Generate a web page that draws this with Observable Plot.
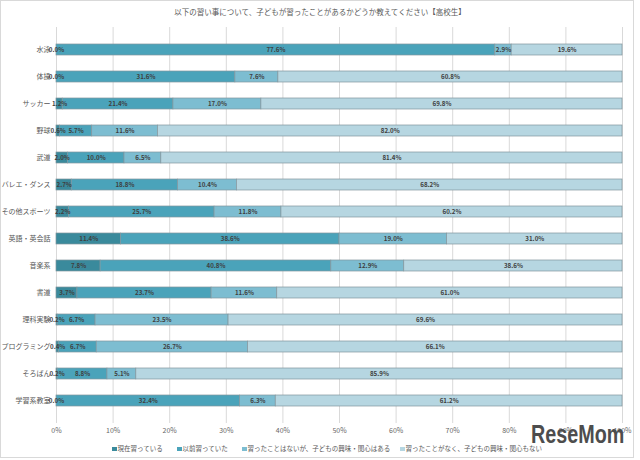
<!DOCTYPE html>
<html><head><meta charset="utf-8">
<script src="https://cdn.jsdelivr.net/npm/d3@7"></script>
<script src="https://cdn.jsdelivr.net/npm/@observablehq/plot@0.6"></script>
<style>
body{margin:0;background:#fff;font-family:"Noto Sans CJK JP",sans-serif;}
#wrap{position:relative;width:640px;height:460px;overflow:hidden;background:#fff}
#frame{position:absolute;left:0;top:0;width:634px;height:458px;border:1px solid #d9d9d9;box-sizing:border-box;pointer-events:none}
#title{position:absolute;top:7px;left:0;width:640px;text-align:center;font-size:7.5px;color:#595959;line-height:10px}
#chart{position:absolute;left:0;top:0}
#legend{position:absolute;top:444px;left:112px;font-size:6.5px;color:#595959;white-space:nowrap;line-height:9px}
#legend span.item{position:absolute;top:0}
#legend i{display:inline-block;width:4.5px;height:4.5px;margin-right:1px;vertical-align:0px}
#logo{position:absolute;left:531px;top:422px;font-family:"Liberation Sans",sans-serif;font-weight:bold;font-size:25px;color:#4d4d4d;transform:scaleX(0.79);transform-origin:left top;line-height:25px}
</style>
</head><body>
<div id="wrap">
  <div id="title">以下の習い事について、子どもが習ったことがあるかどうか教えてください【高校生】</div>
  <div id="chart"></div>
  <div id="legend"></div>
  <div id="logo">ReseMom</div>
  <div id="frame"></div>
</div>
<script>
const categories = ["水泳","体操","サッカー","野球","武道","バレエ・ダンス","その他スポーツ","英語・英会話","音楽系","書道","理科実験","プログラミング","そろばん","学習系教室"];
const series = ["現在習っている","以前習っていた","習ったことはないが、子どもの興味・関心はある","習ったことがなく、子どもの興味・関心もない"];
const current       = [0.0, 0.0, 1.2, 0.6, 2.0, 2.7, 2.2, 11.4, 7.8, 3.7, 0.2, 0.4, 0.2, 0.0];
const before        = [77.6, 31.6, 21.4, 5.7, 10.0, 18.8, 25.7, 38.6, 40.8, 23.7, 6.7, 6.7, 8.8, 32.4];
const interested    = [2.9, 7.6, 17.0, 11.6, 6.5, 10.4, 11.8, 19.0, 12.9, 11.6, 23.5, 26.7, 5.1, 6.3];
const notInterested = [19.6, 60.8, 69.8, 82.0, 81.4, 68.2, 60.2, 31.0, 38.6, 61.0, 69.6, 66.1, 85.9, 61.2];
const colors = ["#3a8a9c", "#4aa3ba", "#7dbdd1", "#b6d6e1"];
const xTicks = [0, 10, 20, 30, 40, 50, 60, 70, 80, 90, 100];

const seriesValues = [current, before, interested, notInterested];
const data = [];
categories.forEach((c, i) => {
  series.forEach((s, j) => {
    data.push({cat: c, series: s, value: seriesValues[j][i]});
  });
});

const chart = Plot.plot({
  width: 640,
  height: 440,
  marginTop: 27,
  marginBottom: 17,
  marginLeft: 56,
  marginRight: 18,
  style: {fontFamily: '"Noto Sans CJK JP", sans-serif', background: "transparent"},
  x: {domain: [0, 1], ticks: xTicks.map(d => d / 100), tickFormat: d => Math.round(d * 100) + "%", label: null, tickSize: 0, tickPadding: 5},
  y: {domain: categories, padding: 0.6, label: null, tickSize: 0, tickPadding: 6},
  color: {domain: series, range: colors},
  marks: [
    Plot.gridX(xTicks.map(d => d / 100), {stroke: "#d9d9d9", strokeOpacity: 1}),
    Plot.barX(data, Plot.stackX({x: "value", y: "cat", z: "series", fill: "series", offset: "normalize", stroke: "#80959d", strokeWidth: 0.7})),
    Plot.axisX({ticks: xTicks.map(d => d / 100), tickFormat: d => Math.round(d * 100) + "%", tickSize: 0, tickPadding: 5, fontSize: 7, fill: "#666", label: null}),
    Plot.axisY({tickSize: 0, tickPadding: 6, fontSize: 7, fill: "#555", label: null}),
    Plot.text(data, Plot.stackX({x: "value", y: "cat", z: "series", offset: "normalize", text: d => d.value.toFixed(1) + "%", fill: "#3f3f3f", fontSize: 6.2, fontWeight: "bold"}))
  ]
});
document.getElementById("chart").appendChild(chart);

const legend = document.getElementById("legend");
const legendX = [0, 65, 130, 288];
series.forEach((s, j) => {
  const span = document.createElement("span");
  span.className = "item";
  span.style.left = legendX[j] + "px";
  span.innerHTML = `<i style="background:${colors[j]}"></i>${s}`;
  legend.appendChild(span);
});
</script>
</body></html>
